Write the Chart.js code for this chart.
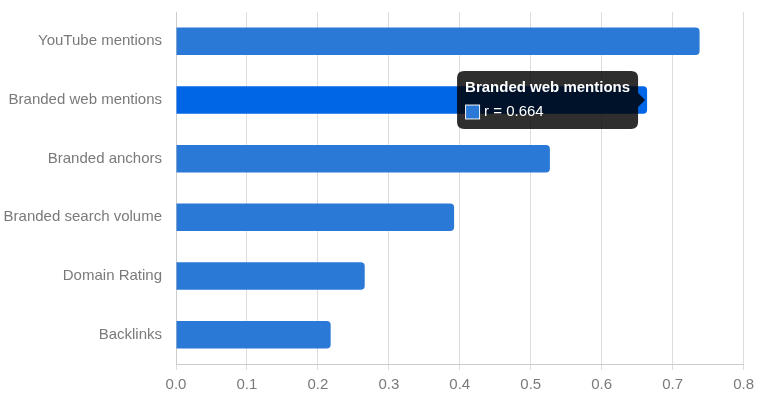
<!DOCTYPE html>
<html>
<head>
<meta charset="utf-8">
<script src="https://cdn.jsdelivr.net/npm/chart.js@4/dist/chart.umd.min.js"></script>
<style>
  html, body { margin: 0; padding: 0; background: #fff; }
  #wrap { width: 760px; height: 400px; }
</style>
</head>
<body>
<div id="wrap"><canvas id="chart"></canvas></div>
<script>
const categories = ['YouTube mentions', 'Branded web mentions', 'Branded anchors',
  'Branded search volume', 'Domain Rating', 'Backlinks'];
const correlations = [0.738, 0.664, 0.527, 0.392, 0.266, 0.218];
const xTicks = [0, 0.1, 0.2, 0.3, 0.4, 0.5, 0.6, 0.7, 0.8];
const activeIndex = 1;

Chart.defaults.font.family = '"Liberation Sans", Arial, sans-serif';
Chart.defaults.font.size = 15;
Chart.defaults.color = '#7a7a7a';

const chart = new Chart(document.getElementById('chart'), {
  type: 'bar',
  data: {
    labels: categories,
    datasets: [{
      label: 'r',
      data: correlations,
      backgroundColor: '#2a79d6',
      hoverBackgroundColor: '#0066e6',
      borderWidth: 0,
      borderRadius: 4,
      borderSkipped: 'start',
      barPercentage: 0.47,
      categoryPercentage: 1
    }]
  },
  options: {
    indexAxis: 'y',
    responsive: true,
    maintainAspectRatio: false,
    animation: false,
    layout: { padding: { top: 0, right: 10, left: 0, bottom: 0 } },
    events: [],
    scales: {
      x: {
        min: 0,
        max: 0.8,
        afterBuildTicks: (axis) => { axis.ticks = xTicks.map(v => ({ value: v })); },
        ticks: {
          callback: (v) => Number(v).toFixed(1),
          padding: 6
        },
        grid: { color: '#dddddd', drawTicks: true, tickLength: 6 },
        border: { color: '#cccccc' }
      },
      y: {
        // label-to-axis gap comes from tickLength + padding
        grid: { display: false, drawTicks: true, tickLength: 11 },
        border: { color: '#cccccc' },
        ticks: { padding: 3 },
        afterFit: (axis) => { axis.width = 176; }
      }
    },
    plugins: {
      legend: { display: false },
      tooltip: {
        backgroundColor: 'rgba(0, 0, 0, 0.82)',
        titleFont: { size: 15, weight: 'bold' },
        bodyFont: { size: 15 },
        titleColor: '#fff',
        bodyColor: '#fff',
        padding: 8,
        titleMarginBottom: 6,
        cornerRadius: 7,
        caretSize: 7,
        xAlign: 'right',
        yAlign: 'center',
        boxPadding: 2,
        callbacks: {
          label: (ctx) => 'r = ' + ctx.parsed.x.toFixed(3)
        }
      }
    }
  }
});

const active = [{ datasetIndex: 0, index: activeIndex }];
chart.setActiveElements(active);
chart.tooltip.setActiveElements(active, { x: 0, y: 0 });
chart.update();
</script>
</body>
</html>
